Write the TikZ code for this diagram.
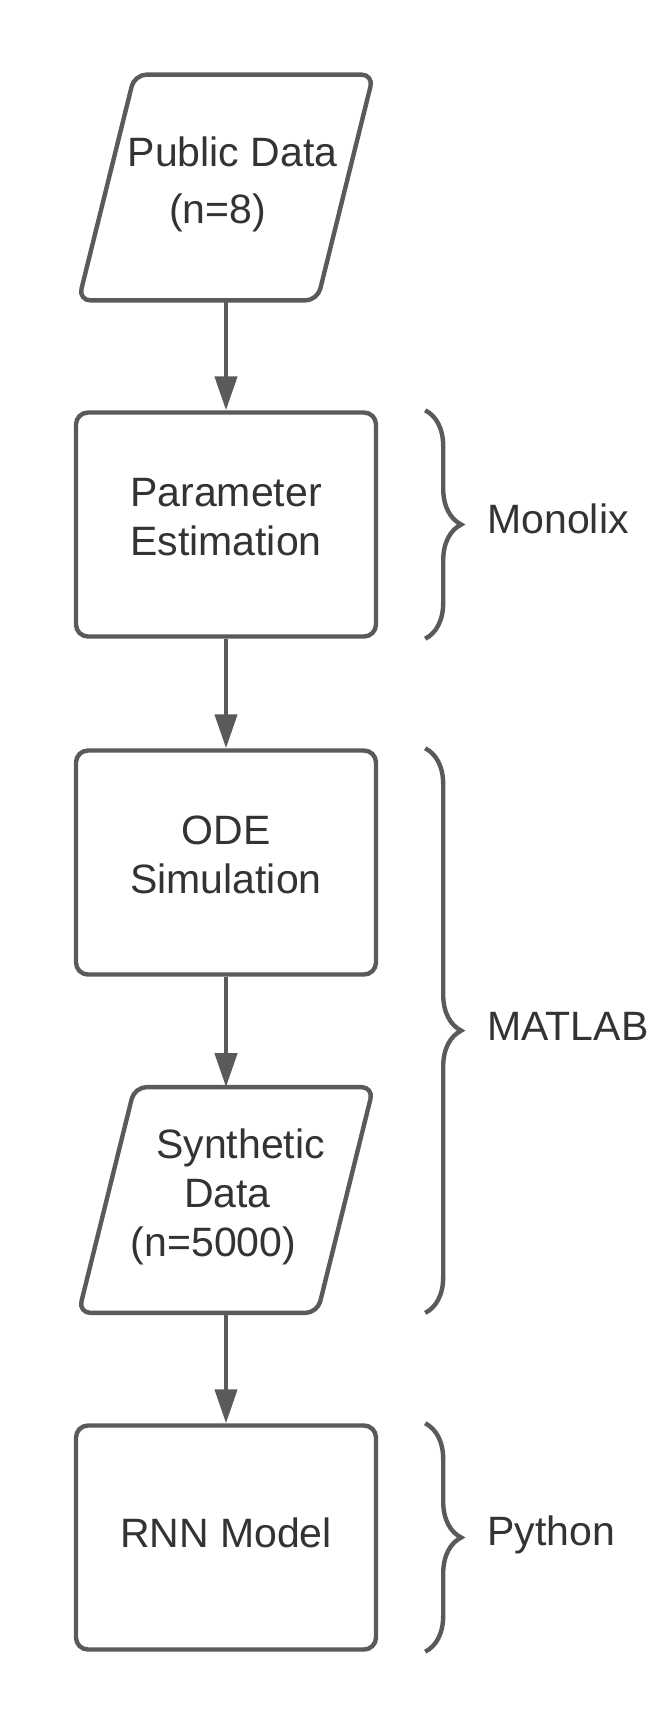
\documentclass[tikz,border=0pt]{standalone}
\usepackage{fontspec}
\setmainfont{Liberation Sans}
\usetikzlibrary{arrows.meta,decorations.pathreplacing,calc}
\definecolor{linegray}{HTML}{5A5A5A}
\definecolor{textgray}{HTML}{333333}
\tikzset{
  boxfont/.style={font=\fontsize{20.5pt}{24.5pt}\selectfont, text=textgray},
  processbox/.style={boxfont, draw=linegray, line width=2.2pt, rounded corners=6pt,
    minimum width=150pt, minimum height=112pt, align=center, inner sep=0pt,
    execute at begin node=\strut, execute at end node=\strut},
  databox/.style={boxfont, minimum width=147pt, minimum height=112.5pt,
    align=center, inner sep=0pt,
    execute at begin node=\strut, execute at end node=\strut},
  dataline/.style={draw=linegray, line width=2.2pt, rounded corners=6pt},
  flowarrow/.style={draw=linegray, line width=2.2pt, -{Triangle[length=17pt,width=11pt]}},
  toolbrace/.style={draw=linegray, line width=2.2pt, decorate,
    decoration={brace, amplitude=18pt}},
  toollabel/.style={boxfont, inner sep=0pt, anchor=base west}
}
\begin{document}
\begin{tikzpicture}[x=0.5pt, y=-0.5pt]
      \path[use as bounding box, fill=white] (0,0) rectangle (647,1725);
      % flow chart
      \node[databox] (pub) at (226,187.5) {\hspace*{6.5pt}Public Data\\[4pt](n=8)\hspace*{8.5pt}};
      \node[processbox] (param) at (226,524.5) {Parameter\\Estimation};
      \node[processbox] (ode) at (226,862.5) {ODE\\Simulation};
      \node[databox] (synth) at (226,1200) {\hspace*{14.5pt}Synthetic\\\hspace*{1.5pt}Data\\(n=5000)\hspace*{12.5pt}};
      \node[processbox] (rnn) at (226,1537.5) {RNN Model};
      \foreach \n in {pub,synth}
        \draw[dataline] (\n.south) -- ([xshift=-28pt]\n.south east) -- (\n.north east)
          -- ([xshift=28pt]\n.north west) -- (\n.south west) -- cycle;
      \begin{scope}[flowarrow]
        \draw (pub.south) to (param.north);
        \draw (param.south) to (ode.north);
        \draw (ode.south) to (synth.north);
        \draw (synth.south) to (rnn.north);
      \end{scope}
      % tools
      \draw[toolbrace] ($(param.north east)+(47,0)$) -- ($(param.south east)+(47,0)$);
      \draw[toolbrace] ($(ode.north east)+(47,0)$) -- ($(synth.south -| ode.east)+(47,0)$);
      \draw[toolbrace] ($(rnn.north east)+(47,0)$) -- ($(rnn.south east)+(47,0)$);
      \node[toollabel] (monolix) at (487,533) {Monolix};
      \node[toollabel] (matlab) at (487,1040) {MATLAB};
      \node[toollabel] (python) at (487,1545) {Python};
    \end{tikzpicture}
\end{document}
